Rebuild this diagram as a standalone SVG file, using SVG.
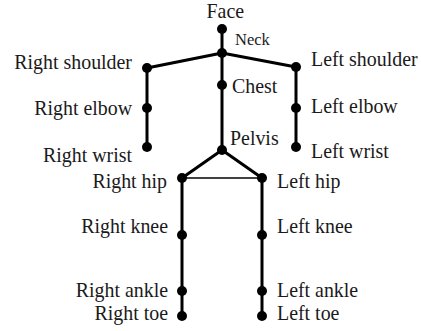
<svg xmlns="http://www.w3.org/2000/svg" width="421" height="331" viewBox="0 0 421 331">
<style>
.bone{stroke:#000;stroke-width:3;fill:none;stroke-linecap:round}
.thin{stroke:#000;stroke-width:1.5;fill:none}
.joint{fill:#000}
text{font-family:"Liberation Serif","Times New Roman",serif;font-size:19.9px;fill:#1a1a1a}
.r{text-anchor:end}
.small{font-size:16.5px}
</style>
<rect width="421" height="331" fill="#fff"/>
<g id="connectors">
<line class="bone" x1="222" y1="29" x2="222" y2="53"/>
<line class="bone" x1="222" y1="53" x2="147" y2="68"/>
<line class="bone" x1="222" y1="53" x2="296" y2="67"/>
<line class="bone" x1="147" y1="68" x2="147" y2="108"/>
<line class="bone" x1="147" y1="108" x2="147" y2="147"/>
<line class="bone" x1="296" y1="67" x2="296" y2="108"/>
<line class="bone" x1="296" y1="108" x2="296" y2="147"/>
<line class="bone" x1="222" y1="53" x2="222" y2="85"/>
<line class="bone" x1="222" y1="85" x2="222" y2="150"/>
<line class="bone" x1="222" y1="150" x2="182" y2="178"/>
<line class="bone" x1="222" y1="150" x2="262" y2="178"/>
<line class="thin" x1="182" y1="178" x2="262" y2="178"/>
<line class="bone" x1="182" y1="178" x2="182" y2="235"/>
<line class="bone" x1="182" y1="235" x2="182" y2="291"/>
<line class="bone" x1="182" y1="291" x2="182" y2="316"/>
<line class="bone" x1="262" y1="178" x2="262" y2="235"/>
<line class="bone" x1="262" y1="235" x2="262" y2="291"/>
<line class="bone" x1="262" y1="291" x2="262" y2="316"/>
</g>
<g id="face"><circle class="joint" cx="222" cy="29" r="5"/><text x="206.5" y="17.5">Face</text></g>
<g id="neck"><circle class="joint" cx="222" cy="53" r="5"/><text class="small" x="235" y="45">Neck</text></g>
<g id="right-shoulder"><circle class="joint" cx="147" cy="68" r="5"/><text class="r" x="132" y="69">Right shoulder</text></g>
<g id="left-shoulder"><circle class="joint" cx="296" cy="67" r="5"/><text x="311" y="66">Left shoulder</text></g>
<g id="chest"><circle class="joint" cx="222" cy="85" r="5"/><text x="232" y="93">Chest</text></g>
<g id="right-elbow"><circle class="joint" cx="147" cy="108" r="5"/><text class="r" x="132" y="115">Right elbow</text></g>
<g id="left-elbow"><circle class="joint" cx="296" cy="108" r="5"/><text x="311" y="113">Left elbow</text></g>
<g id="pelvis"><circle class="joint" cx="222" cy="150" r="5"/><text x="230" y="145">Pelvis</text></g>
<g id="right-wrist"><circle class="joint" cx="147" cy="147" r="5"/><text class="r" x="132" y="162">Right wrist</text></g>
<g id="left-wrist"><circle class="joint" cx="296" cy="147" r="5"/><text x="311" y="158">Left wrist</text></g>
<g id="right-hip"><circle class="joint" cx="182" cy="178" r="5"/><text class="r" x="167" y="188">Right hip</text></g>
<g id="left-hip"><circle class="joint" cx="262" cy="178" r="5"/><text x="277" y="188">Left hip</text></g>
<g id="right-knee"><circle class="joint" cx="182" cy="235" r="5"/><text class="r" x="168" y="233">Right knee</text></g>
<g id="left-knee"><circle class="joint" cx="262" cy="235" r="5"/><text x="277" y="233">Left knee</text></g>
<g id="right-ankle"><circle class="joint" cx="182" cy="291" r="5"/><text class="r" x="168" y="297">Right ankle</text></g>
<g id="left-ankle"><circle class="joint" cx="262" cy="291" r="5"/><text x="277" y="297">Left ankle</text></g>
<g id="right-toe"><circle class="joint" cx="182" cy="316" r="5"/><text class="r" x="168" y="320">Right toe</text></g>
<g id="left-toe"><circle class="joint" cx="262" cy="316" r="5"/><text x="277" y="320">Left toe</text></g>
</svg>
